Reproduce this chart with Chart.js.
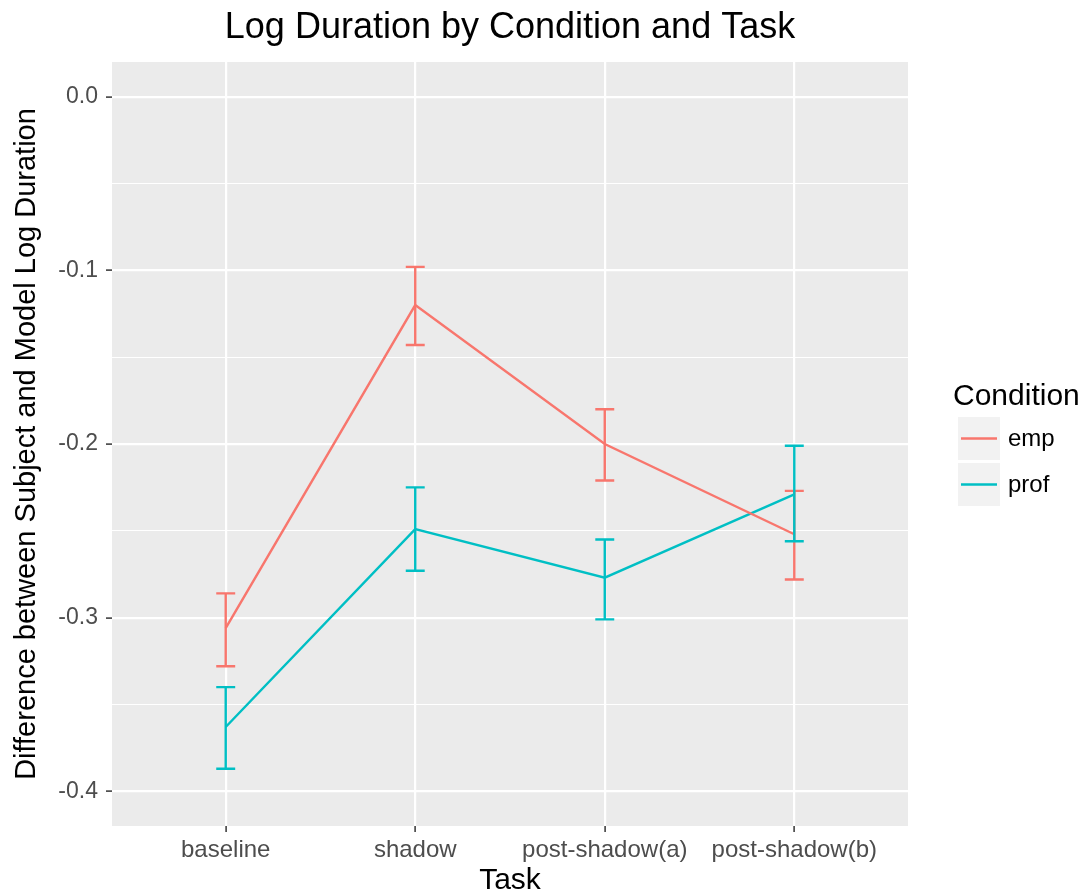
<!DOCTYPE html>
<html>
<head>
<meta charset="utf-8">
<title>Log Duration by Condition and Task</title>
<script src="https://cdn.jsdelivr.net/npm/chart.js@4/dist/chart.umd.min.js"></script>
<style>
    body { margin: 0; background: #ffffff; }
    #wrap { width: 1086px; height: 896px; }
</style>
</head>
<body>
<div id="wrap"><canvas id="durationChart" width="1086" height="896"></canvas></div>
<script>
// Категории (задачи) и условия
const tasks = ["baseline", "shadow", "post-shadow(a)", "post-shadow(b)"];
const conditions = ["emp", "prof"];
const conditionColors = ["#F8766D", "#00BFC4"];

// Средние значения и границы ошибок
const empMean = [-0.306, -0.120, -0.200, -0.252];
const empUpper = [-0.286, -0.098, -0.180, -0.227];
const empLower = [-0.328, -0.143, -0.221, -0.278];

const profMean = [-0.363, -0.249, -0.277, -0.229];
const profUpper = [-0.340, -0.225, -0.255, -0.201];
const profLower = [-0.387, -0.273, -0.301, -0.256];

// Деления оси Y (major через 0.1, minor между ними)
const yTicks = [-0.4, -0.35, -0.3, -0.25, -0.2, -0.15, -0.1, -0.05, 0.0];

const means = [empMean, profMean];
const uppers = [empUpper, profUpper];
const lowers = [empLower, profLower];

const FONT = "'Liberation Sans', Arial, Helvetica, sans-serif";

function isMajor(v) {
    return Math.abs(Math.round(v * 10) - v * 10) < 1e-6;
}

// Серый фон панели
const panelBackground = {
    id: 'panelBackground',
    beforeDraw(chart) {
        const { ctx, chartArea } = chart;
        ctx.save();
        ctx.fillStyle = '#EBEBEB';
        ctx.fillRect(chartArea.left, chartArea.top, chartArea.right - chartArea.left, chartArea.bottom - chartArea.top);
        ctx.restore();
    }
};

// Планки погрешностей
const errorBars = {
    id: 'errorBars',
    afterDatasetsDraw(chart) {
        const { ctx } = chart;
        const xs = chart.scales.x;
        const ys = chart.scales.y;
        ctx.save();
        ctx.lineWidth = 2.4;
        for (let s = 0; s < conditions.length; s++) {
            ctx.strokeStyle = conditionColors[s];
            for (let j = 0; j < tasks.length; j++) {
                const x = xs.getPixelForValue(j);
                const xl = xs.getPixelForValue(j - 0.05);
                const xr = xs.getPixelForValue(j + 0.05);
                const yHi = ys.getPixelForValue(uppers[s][j]);
                const yLo = ys.getPixelForValue(lowers[s][j]);
                ctx.beginPath();
                ctx.moveTo(xl, yHi); ctx.lineTo(xr, yHi);
                ctx.moveTo(x, yHi); ctx.lineTo(x, yLo);
                ctx.moveTo(xl, yLo); ctx.lineTo(xr, yLo);
                ctx.stroke();
            }
        }
        ctx.restore();
    }
};

// Заголовок и легенда в стиле ggplot
const titleAndLegend = {
    id: 'titleAndLegend',
    afterDraw(chart) {
        const { ctx, chartArea } = chart;
        ctx.save();

        // Заголовок по центру панели
        ctx.fillStyle = '#000000';
        ctx.font = '36px ' + FONT;
        ctx.textAlign = 'center';
        ctx.textBaseline = 'alphabetic';
        ctx.fillText('Log Duration by Condition and Task', (chartArea.left + chartArea.right) / 2, 38);

        // Легенда
        const lx = chartArea.right + 50;
        ctx.textAlign = 'left';
        ctx.font = '30px ' + FONT;
        ctx.fillText('Condition', lx - 5, 405);

        ctx.font = '24px ' + FONT;
        ctx.textBaseline = 'middle';
        for (let s = 0; s < conditions.length; s++) {
            const top = 417 + s * 46;
            ctx.fillStyle = '#F2F2F2';
            ctx.fillRect(lx, top, 42, 43);
            ctx.strokeStyle = conditionColors[s];
            ctx.lineWidth = 2.4;
            ctx.beginPath();
            ctx.moveTo(lx + 3, top + 21.5);
            ctx.lineTo(lx + 39, top + 21.5);
            ctx.stroke();
            ctx.fillStyle = '#000000';
            ctx.fillText(conditions[s], lx + 50, top + 22);
        }
        ctx.restore();
    }
};

// Наборы данных для линий
const datasets = conditions.map((name, s) => ({
    label: name,
    data: means[s].map((v, j) => ({ x: j, y: v })),
    borderColor: conditionColors[s],
    backgroundColor: conditionColors[s],
    borderWidth: 2.4,
    pointRadius: 0,
    tension: 0,
    fill: false
}));

const ctx = document.getElementById('durationChart').getContext('2d');
const chart = new Chart(ctx, {
    type: 'line',
    data: { datasets: datasets },
    options: {
        responsive: false,
        animation: false,
        layout: { padding: { top: 62, right: 178, left: 0, bottom: 0 } },
        plugins: {
            legend: { display: false },
            title: { display: false },
            tooltip: { enabled: false }
        },
        scales: {
            x: {
                type: 'linear',
                min: -0.6,
                max: 3.6,
                afterBuildTicks: (scale) => {
                    scale.ticks = tasks.map((t, i) => ({ value: i }));
                },
                afterFit: (scale) => { scale.height = 70; },
                ticks: {
                    callback: (value) => tasks[value],
                    color: '#4D4D4D',
                    font: { family: FONT, size: 24 },
                    padding: 4,
                    maxRotation: 0,
                    autoSkip: false
                },
                grid: {
                    color: '#FFFFFF',
                    lineWidth: 2.2,
                    drawTicks: true,
                    tickLength: 6,
                    tickColor: '#333333',
                    tickWidth: 1.5
                },
                border: { display: false },
                title: {
                    display: true,
                    text: 'Task',
                    color: '#000000',
                    font: { family: FONT, size: 30, lineHeight: 1.0 },
                    padding: { top: 0, bottom: 0 }
                }
            },
            y: {
                type: 'linear',
                min: -0.42,
                max: 0.02,
                afterBuildTicks: (scale) => {
                    scale.ticks = yTicks.map(v => ({ value: v }));
                },
                afterFit: (scale) => { scale.width = 112; },
                ticks: {
                    callback: (value) => isMajor(value) ? value.toFixed(1) : '',
                    color: '#4D4D4D',
                    font: { family: FONT, size: 23 },
                    padding: 8,
                    autoSkip: false
                },
                grid: {
                    color: '#FFFFFF',
                    lineWidth: (c) => isMajor(c.tick.value) ? 2.2 : 1.1,
                    drawTicks: true,
                    tickLength: 6,
                    tickColor: (c) => isMajor(c.tick.value) ? '#333333' : 'rgba(0,0,0,0)',
                    tickWidth: 1.5
                },
                border: { display: false },
                title: {
                    display: true,
                    text: 'Difference between Subject and Model Log Duration',
                    color: '#000000',
                    font: { family: FONT, size: 29, lineHeight: 1.2 },
                    padding: { top: 10, bottom: 0 }
                }
            }
        }
    },
    plugins: [panelBackground, errorBars, titleAndLegend]
});
</script>
</body>
</html>
